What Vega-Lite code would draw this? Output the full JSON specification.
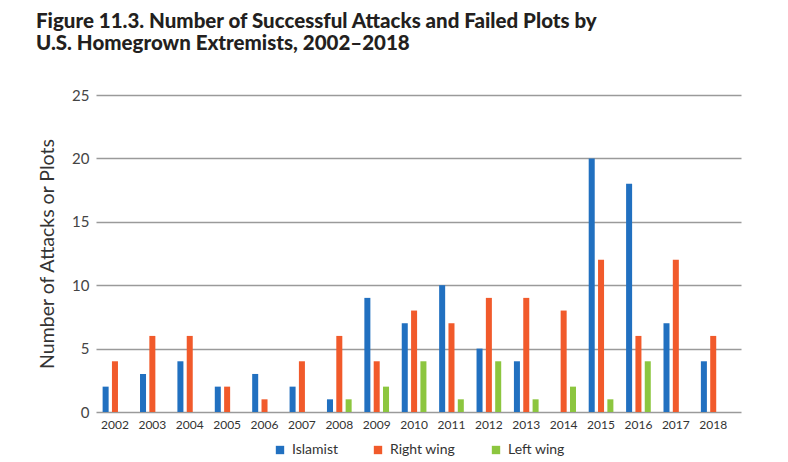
{
  "$schema": "https://vega.github.io/schema/vega-lite/v6.json",
  "width": 645,
  "height": 317,
  "autosize": {"type": "none"},
  "padding": {"left": 96, "top": 95, "right": 47, "bottom": 50},
  "background": "white",
  "title": {
    "text": ["Figure 11.3. Number of Successful Attacks and Failed Plots by", "U.S. Homegrown Extremists, 2002\u20132018"],
    "anchor": "start",
    "frame": "group",
    "dx": -60,
    "font": "Lato",
    "fontWeight": 900,
    "fontSize": 20.5,
    "lineHeight": 22,
    "color": "#231f20",
    "offset": 34
  },
  "data": {
    "values": [
      {"year": "2002", "group": "Islamist", "n": 2}, {"year": "2002", "group": "Right wing", "n": 4}, {"year": "2002", "group": "Left wing", "n": 0},
      {"year": "2003", "group": "Islamist", "n": 3}, {"year": "2003", "group": "Right wing", "n": 6}, {"year": "2003", "group": "Left wing", "n": 0},
      {"year": "2004", "group": "Islamist", "n": 4}, {"year": "2004", "group": "Right wing", "n": 6}, {"year": "2004", "group": "Left wing", "n": 0},
      {"year": "2005", "group": "Islamist", "n": 2}, {"year": "2005", "group": "Right wing", "n": 2}, {"year": "2005", "group": "Left wing", "n": 0},
      {"year": "2006", "group": "Islamist", "n": 3}, {"year": "2006", "group": "Right wing", "n": 1}, {"year": "2006", "group": "Left wing", "n": 0},
      {"year": "2007", "group": "Islamist", "n": 2}, {"year": "2007", "group": "Right wing", "n": 4}, {"year": "2007", "group": "Left wing", "n": 0},
      {"year": "2008", "group": "Islamist", "n": 1}, {"year": "2008", "group": "Right wing", "n": 6}, {"year": "2008", "group": "Left wing", "n": 1},
      {"year": "2009", "group": "Islamist", "n": 9}, {"year": "2009", "group": "Right wing", "n": 4}, {"year": "2009", "group": "Left wing", "n": 2},
      {"year": "2010", "group": "Islamist", "n": 7}, {"year": "2010", "group": "Right wing", "n": 8}, {"year": "2010", "group": "Left wing", "n": 4},
      {"year": "2011", "group": "Islamist", "n": 10}, {"year": "2011", "group": "Right wing", "n": 7}, {"year": "2011", "group": "Left wing", "n": 1},
      {"year": "2012", "group": "Islamist", "n": 5}, {"year": "2012", "group": "Right wing", "n": 9}, {"year": "2012", "group": "Left wing", "n": 4},
      {"year": "2013", "group": "Islamist", "n": 4}, {"year": "2013", "group": "Right wing", "n": 9}, {"year": "2013", "group": "Left wing", "n": 1},
      {"year": "2014", "group": "Islamist", "n": 0}, {"year": "2014", "group": "Right wing", "n": 8}, {"year": "2014", "group": "Left wing", "n": 2},
      {"year": "2015", "group": "Islamist", "n": 20}, {"year": "2015", "group": "Right wing", "n": 12}, {"year": "2015", "group": "Left wing", "n": 1},
      {"year": "2016", "group": "Islamist", "n": 18}, {"year": "2016", "group": "Right wing", "n": 6}, {"year": "2016", "group": "Left wing", "n": 4},
      {"year": "2017", "group": "Islamist", "n": 7}, {"year": "2017", "group": "Right wing", "n": 12}, {"year": "2017", "group": "Left wing", "n": 0},
      {"year": "2018", "group": "Islamist", "n": 4}, {"year": "2018", "group": "Right wing", "n": 6}, {"year": "2018", "group": "Left wing", "n": 0}
    ]
  },
  "mark": {"type": "bar"},
  "encoding": {
    "x": {
      "field": "year",
      "type": "nominal",
      "scale": {"paddingInner": 0.34, "paddingOuter": 0.295, "align": 0.3},
      "axis": {
        "title": null,
        "labelAngle": 0,
        "labelFont": "Lato",
        "labelFontSize": 12,
        "labelColor": "#333333",
        "labelPadding": 7,
        "ticks": false,
        "domain": false,
        "grid": false
      }
    },
    "xOffset": {
      "field": "group",
      "type": "nominal",
      "sort": ["Islamist", "Right wing", "Left wing"],
      "scale": {"paddingInner": 0.355, "paddingOuter": 0}
    },
    "y": {
      "field": "n",
      "type": "quantitative",
      "scale": {"domain": [0, 25], "nice": false},
      "axis": {
        "title": "Number of Attacks or Plots",
        "titleFont": "Lato",
        "titleFontWeight": "normal",
        "titleFontSize": 19.5,
        "titleColor": "#333333",
        "titlePadding": 14,
        "values": [0, 5, 10, 15, 20, 25],
        "labelFont": "Lato",
        "labelFontSize": 15,
        "labelColor": "#444444",
        "labelPadding": 7,
        "ticks": false,
        "domain": false,
        "grid": true,
        "gridColor": "#9a9a9a",
        "gridWidth": 1.5
      }
    },
    "color": {
      "field": "group",
      "type": "nominal",
      "sort": ["Islamist", "Right wing", "Left wing"],
      "scale": {"domain": ["Islamist", "Right wing", "Left wing"], "range": ["#2170c0", "#f15a2b", "#8cc63f"]},
      "legend": {
        "title": null,
        "orient": "none",
        "legendX": 177,
        "legendY": 348,
        "direction": "horizontal",
        "symbolType": "square",
        "symbolSize": 70,
        "symbolStrokeWidth": 0,
        "labelFont": "Lato",
        "labelFontSize": 14,
        "labelColor": "#333333",
        "labelOffset": 5,
        "columnPadding": 33
      }
    }
  },
  "config": {"view": {"stroke": null}}
}
